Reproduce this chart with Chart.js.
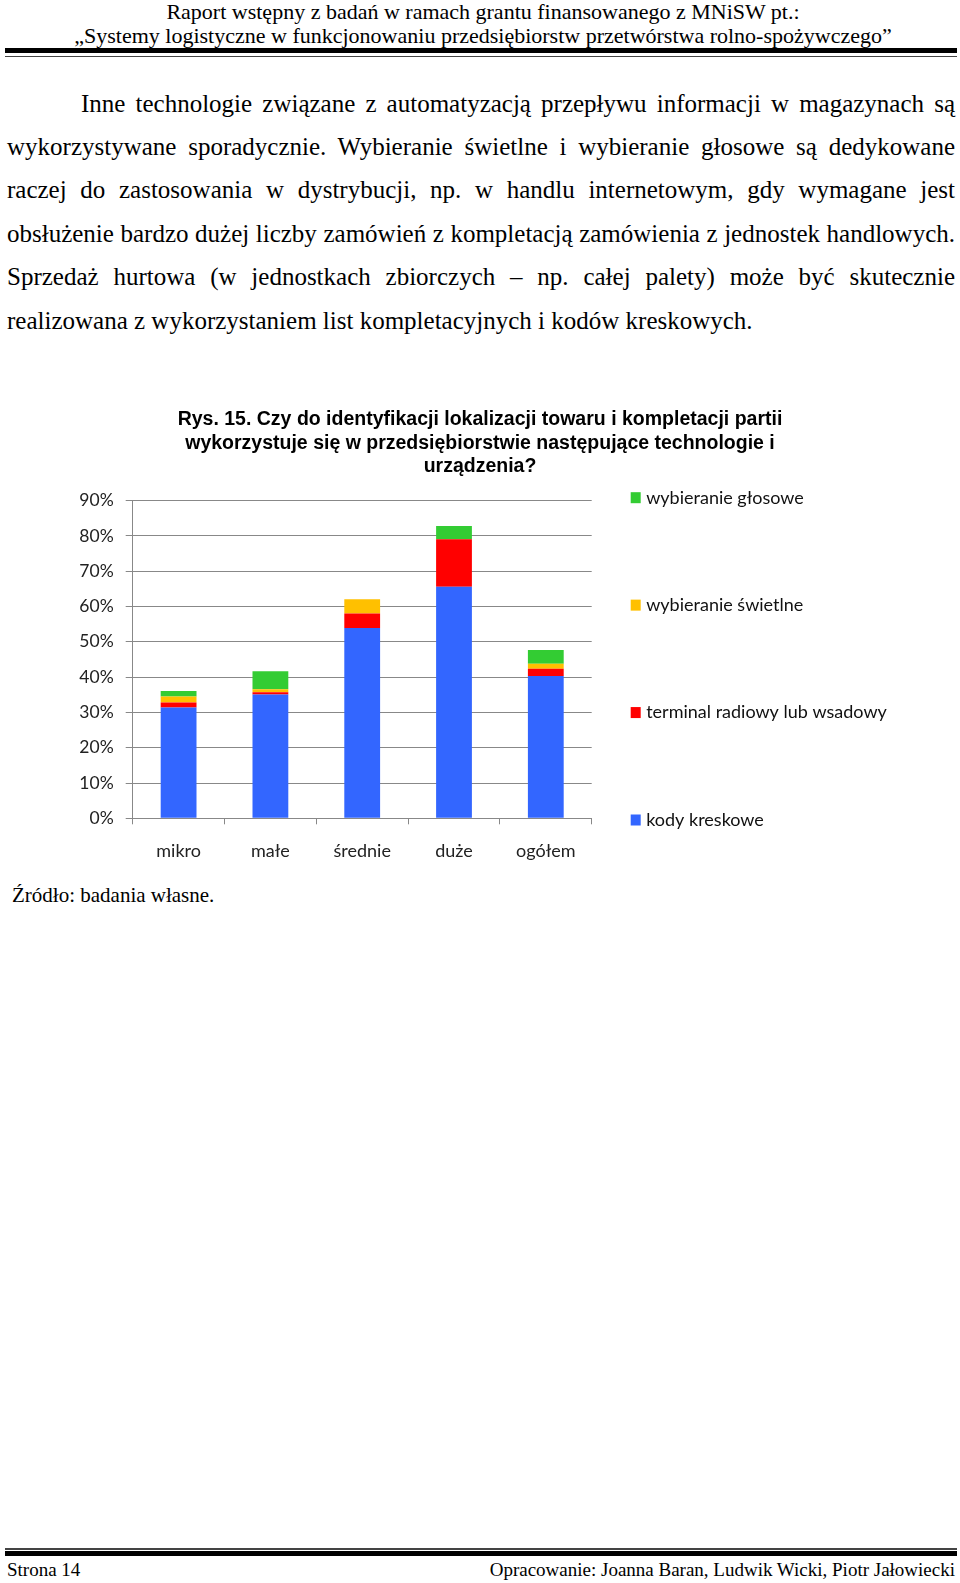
<!DOCTYPE html>
<html lang="pl">
<head>
<meta charset="utf-8">
<title>Rys. 15</title>
<script src="https://cdn.jsdelivr.net/npm/chart.js@4.4.1/dist/chart.umd.min.js"></script>
<style>
  html, body { margin: 0; padding: 0; background: #fff; }
  body { width: 960px; height: 1583px; position: relative; overflow: hidden; }
  .hdr { position: absolute; left: 3px; width: 960px; text-align: center;
         font-family: "Liberation Serif", serif; font-size: 22px; line-height: 24px; color: #000; }
  .rule { position: absolute; left: 5px; width: 952px; }
  .para { position: absolute; left: 7px; width: 948px; font-family: "Liberation Serif", serif;
          font-size: 25px; line-height: 43.4px; color: #000; }
  .para div { text-align: justify; text-align-last: justify; white-space: nowrap; }
  .para div.last { text-align-last: left; }
  .src { position: absolute; left: 12px; top: 883px; font-family: "Liberation Serif", serif;
         font-size: 21px; line-height: 25px; color: #000; }
  .ftr { position: absolute; top: 1558px; font-family: "Liberation Serif", serif;
         font-size: 19px; line-height: 24px; color: #000; }
  #wrap { position: absolute; left: 0; top: 390px; width: 960px; height: 480px; }
</style>
</head>
<body>
<div class="hdr" style="top:0">Raport wstępny z badań w ramach grantu finansowanego z MNiSW pt.:</div>
<div class="hdr" style="top:24px">„Systemy logistyczne w funkcjonowaniu przedsiębiorstw przetwórstwa rolno-spożywczego”</div>
<div class="rule" style="top:48px;height:5px;background:#000"></div>
<div class="rule" style="top:55.5px;height:1.5px;background:#444"></div>

<div class="para" style="top:81.6px">
  <div style="text-indent:74px">Inne technologie związane z automatyzacją przepływu informacji w magazynach są</div>
  <div>wykorzystywane sporadycznie. Wybieranie świetlne i wybieranie głosowe są dedykowane</div>
  <div>raczej do zastosowania w dystrybucji, np. w handlu internetowym, gdy wymagane jest</div>
  <div>obsłużenie bardzo dużej liczby zamówień z kompletacją zamówienia z jednostek handlowych.</div>
  <div>Sprzedaż hurtowa (w jednostkach zbiorczych – np. całej palety) może być skutecznie</div>
  <div class="last">realizowana z wykorzystaniem list kompletacyjnych i kodów kreskowych.</div>
</div>

<div id="wrap"><canvas id="c" width="960" height="480"></canvas></div>

<div class="src">Źródło: badania własne.</div>

<div class="rule" style="top:1548px;height:1.5px;background:#444"></div>
<div class="rule" style="top:1551px;height:5px;background:#000"></div>
<div class="ftr" style="left:7px">Strona 14</div>
<div class="ftr" style="right:5px">Opracowanie: Joanna Baran, Ludwik Wicki, Piotr Jałowiecki</div>

<script>
// ---- data ----
const categories = ['mikro', 'małe', 'średnie', 'duże', 'ogółem'];
const kodyKreskowe = [31.4, 35.1, 53.9, 65.6, 40.3];
const terminalRadiowy = [1.4, 0.6, 4.1, 13.5, 2.1];
const wybieranieSwietlne = [1.7, 0.9, 4.1, 0, 1.4];
const wybieranieGlosowe = [1.6, 5.1, 0, 3.7, 3.9];
const seriesLabels = ['kody kreskowe', 'terminal radiowy lub wsadowy', 'wybieranie świetlne', 'wybieranie głosowe'];
const yTicks = [0, 10, 20, 30, 40, 50, 60, 70, 80, 90];
const titleLines = [
  'Rys. 15. Czy do identyfikacji lokalizacji towaru i kompletacji partii',
  'wykorzystuje się w przedsiębiorstwie następujące technologie i',
  'urządzenia?'
];

const colors = ['#3366FF', '#FF0000', '#FFC000', '#33CC33'];
const seriesValues = [kodyKreskowe, terminalRadiowy, wybieranieSwietlne, wybieranieGlosowe];

const sideLegend = {
  id: 'sideLegend',
  afterDraw(chart) {
    const { ctx, chartArea } = chart;
    const ds = chart.data.datasets.slice().reverse();
    const step = (chartArea.bottom - chartArea.top + 4.7) / (ds.length - 1);
    ctx.save();
    ctx.font = '18px Lato';
    ctx.textBaseline = 'middle';
    ctx.textAlign = 'left';
    ds.forEach((d, i) => {
      const cy = chartArea.top - 3 + i * step;
      const x = chartArea.right + 39;
      ctx.fillStyle = d.backgroundColor;
      ctx.fillRect(x, cy - 5.5, 10, 11);
      ctx.fillStyle = '#111';
      ctx.fillText(d.label, x + 15.5, cy);
    });
    ctx.restore();
  }
};

new Chart(document.getElementById('c'), {
  type: 'bar',
  data: {
    labels: categories,
    datasets: seriesValues.map((vals, i) => ({
      label: seriesLabels[i],
      data: vals,
      backgroundColor: colors[i],
      borderWidth: 0,
      categoryPercentage: 1,
      barPercentage: 0.39
    }))
  },
  options: {
    responsive: false,
    animation: false,
    layout: { padding: 0 },
    plugins: {
      legend: { display: false },
      tooltip: { enabled: false },
      title: {
        display: true,
        text: titleLines,
        color: '#000',
        font: { family: 'Liberation Sans, Arial, sans-serif', size: 19.5, weight: 'bold', lineHeight: 1.205 },
        padding: { top: 18, bottom: 22.2 }
      }
    },
    scales: {
      x: {
        stacked: true,
        grid: { display: true, drawOnChartArea: false, drawTicks: true, tickLength: 6, color: '#888', offset: true },
        border: { display: true, color: '#888', width: 1 },
        ticks: { color: '#222', padding: 16.5, font: { family: 'Lato', size: 18 } },
        afterFit(scale) { scale.height = 51.7; }
      },
      y: {
        stacked: true,
        min: 0,
        max: 90,
        afterBuildTicks(scale) { scale.ticks = yTicks.map(v => ({ value: v })); },
        grid: { color: '#888', tickLength: 7, drawTicks: true },
        border: { display: true, color: '#888', width: 1 },
        ticks: { color: '#222', padding: 12, font: { family: 'Lato', size: 17.5 }, callback: v => v + '%' },
        afterFit(scale) { scale.width = 132.7; }
      },
      legendSpace: {
        type: 'linear',
        position: 'right',
        display: true,
        grid: { display: false, drawTicks: false },
        border: { display: false },
        ticks: { display: false },
        afterFit(scale) { scale.width = 368.3; }
      }
    }
  },
  plugins: [sideLegend]
});
</script>
</body>
</html>
